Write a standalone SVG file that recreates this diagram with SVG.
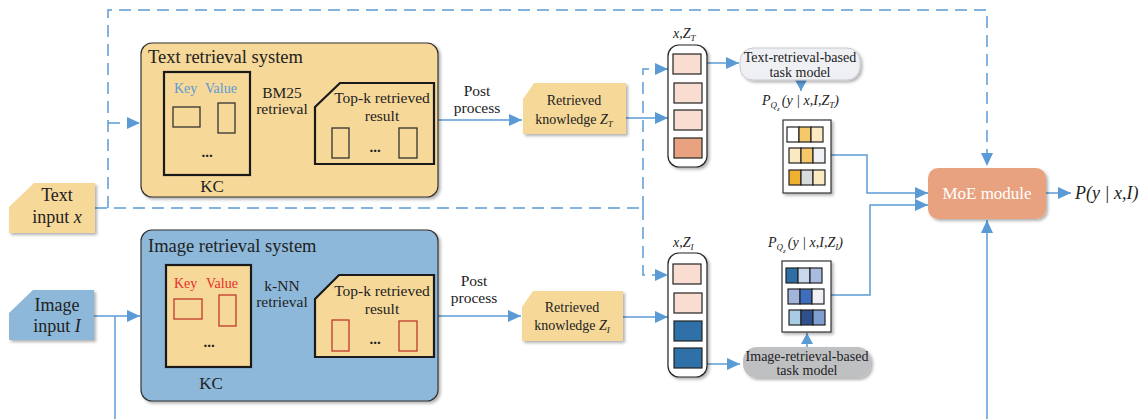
<svg xmlns="http://www.w3.org/2000/svg" width="1145" height="419" viewBox="0 0 1145 419">
<defs>
<marker id="ah" markerUnits="userSpaceOnUse" markerWidth="13" markerHeight="12" refX="13" refY="6" orient="auto"><path d="M0,0 L13,6 L0,12 z" fill="#5B9BD5"/></marker>
<marker id="ahs" markerUnits="userSpaceOnUse" markerWidth="11" markerHeight="12" refX="11" refY="6" orient="auto"><path d="M0,0 L11,6 L0,12 z" fill="#5B9BD5"/></marker>
<filter id="sh" x="-10%" y="-10%" width="125%" height="130%"><feDropShadow dx="2" dy="2" stdDeviation="1.5" flood-color="#000" flood-opacity="0.3"/></filter>
</defs>
<style>
text{font-family:"Liberation Serif","Times New Roman",serif;fill:#222}
.t15{font-size:15.5px}
.t14{font-size:14px}
.it{font-style:italic}
.ln{fill:none;stroke:#5B9BD5;stroke-width:1.5}
.ds{stroke-dasharray:12 7}
.sys{stroke:#333;stroke-width:1.2}
.kc{fill:#F6D898;stroke:#1a1a1a;stroke-width:2.2}
.cell{stroke:#222;stroke-width:1.2}
.sb{stroke:#333;stroke-width:1.3}
</style>
<rect width="1145" height="419" fill="#fff"/>

<g id="connectors">
<path class="ln ds" d="M95,208 H643"/>
<path class="ln ds" d="M108,208 V10 H987 V166" marker-end="url(#ah)"/>
<path class="ln ds" d="M108,123 H140" marker-end="url(#ah)"/>
<path class="ln ds" d="M643,208 V69 H668" marker-end="url(#ah)"/>
<path class="ln ds" d="M643,208 V275 H668" marker-end="url(#ah)"/>
<path class="ln" d="M250,123 H314" marker-end="url(#ah)"/>
<path class="ln" d="M434,120 H522" marker-end="url(#ah)"/>
<path class="ln" d="M626,118 H668" marker-end="url(#ah)"/>
<path class="ln" d="M707,63 H739" marker-end="url(#ah)"/>
<path class="ln" d="M801,80 V91" marker-end="url(#ahs)"/>
<path class="ln" d="M94,316 H140" marker-end="url(#ah)"/>
<path class="ln" d="M115,316 V419"/>
<path class="ln" d="M251,316 H314" marker-end="url(#ah)"/>
<path class="ln" d="M434,316 H521" marker-end="url(#ah)"/>
<path class="ln" d="M623,317 H668" marker-end="url(#ah)"/>
<path class="ln" d="M707,364 H740" marker-end="url(#ah)"/>
<path class="ln" d="M807,347 V333" marker-end="url(#ahs)"/>
<path class="ln" d="M831,155 H867 V193 H928" marker-end="url(#ah)"/>
<path class="ln" d="M831,295 H870 V205 H928" marker-end="url(#ah)"/>
<path class="ln" d="M987,419 V220" marker-end="url(#ah)"/>
<path class="ln" d="M1046,193 H1071" marker-end="url(#ah)"/>
</g>

<g id="text-input">
<polygon points="9,207 34,183 95,183 95,233 9,233" fill="#F6D898" filter="url(#sh)"/>
<text x="57" y="201" font-size="18" text-anchor="middle">Text</text>
<text x="57" y="223" font-size="18" text-anchor="middle">input <tspan class="it">x</tspan></text>
</g>

<g id="image-input">
<polygon points="9,313 33,290 94,290 94,340 9,340" fill="#8DB8DA" filter="url(#sh)"/>
<text x="57" y="311" font-size="18" text-anchor="middle">Image</text>
<text x="57" y="332" font-size="18" text-anchor="middle">input <tspan class="it">I</tspan></text>
</g>

<g id="text-retrieval-system">
<rect x="141" y="43" width="297" height="154" rx="11" fill="#F6D898" class="sys" filter="url(#sh)"/>
<text x="148" y="63" font-size="18.5">Text retrieval system</text>
<rect x="164" y="72" width="86" height="103" class="kc"/>
<text x="174" y="93" class="t14" style="fill:#5B9BD5">Key</text>
<text x="205" y="93" class="t14" style="fill:#5B9BD5">Value</text>
<rect x="173" y="107" width="27" height="20" fill="#F6D898" class="sb"/>
<rect x="218" y="103" width="17" height="30" fill="#F6D898" class="sb"/>
<text x="207" y="157" font-size="15" font-weight="bold" text-anchor="middle">...</text>
<text x="212" y="192" font-size="17" text-anchor="middle">KC</text>
<text x="282" y="98" class="t15" text-anchor="middle">BM25</text>
<text x="282" y="114" class="t15" text-anchor="middle">retrieval</text>
<polygon points="315,107 340,83 434,83 434,164 315,164" fill="#F6D898" stroke="#1a1a1a" stroke-width="2.2"/>
<text x="382" y="103" class="t15" text-anchor="middle">Top-k retrieved</text>
<text x="382" y="121" class="t15" text-anchor="middle">result</text>
<rect x="332" y="128" width="17" height="30" fill="#F6D898" class="sb"/>
<rect x="399" y="128" width="18" height="30" fill="#F6D898" class="sb"/>
<text x="375" y="152" font-size="15" font-weight="bold" text-anchor="middle">...</text>
<text x="477" y="96" class="t15" text-anchor="middle">Post</text>
<text x="477" y="113" class="t15" text-anchor="middle">process</text>
</g>

<g id="image-retrieval-system">
<rect x="141" y="230" width="297" height="171" rx="11" fill="#8DB8DA" class="sys" filter="url(#sh)"/>
<text x="148" y="252" font-size="18.5">Image retrieval system</text>
<rect x="166" y="265" width="85" height="102" class="kc"/>
<text x="174" y="288" class="t14" style="fill:#E8302A">Key</text>
<text x="206" y="288" class="t14" style="fill:#E8302A">Value</text>
<rect x="174" y="299" width="28" height="20" fill="#F6D898" stroke="#C0392B" stroke-width="1.3"/>
<rect x="219" y="295" width="17" height="31" fill="#F6D898" stroke="#C0392B" stroke-width="1.3"/>
<text x="209" y="347" font-size="15" font-weight="bold" text-anchor="middle">...</text>
<text x="211" y="389" font-size="17" text-anchor="middle">KC</text>
<text x="282" y="291" class="t15" text-anchor="middle">k-NN</text>
<text x="282" y="307" class="t15" text-anchor="middle">retrieval</text>
<polygon points="315,299 339,275 434,275 434,357 315,357" fill="#F6D898" stroke="#1a1a1a" stroke-width="2.2"/>
<text x="382" y="296" class="t15" text-anchor="middle">Top-k retrieved</text>
<text x="382" y="314" class="t15" text-anchor="middle">result</text>
<rect x="332" y="320" width="17" height="31" fill="#F6D898" stroke="#C0392B" stroke-width="1.3"/>
<rect x="399" y="321" width="18" height="30" fill="#F6D898" stroke="#C0392B" stroke-width="1.3"/>
<text x="375" y="344" font-size="15" font-weight="bold" text-anchor="middle">...</text>
<text x="474" y="286" class="t15" text-anchor="middle">Post</text>
<text x="474" y="303" class="t15" text-anchor="middle">process</text>
</g>

<g id="retrieved-knowledge-text">
<polygon points="523,99 534,83 626,83 626,134 523,134" fill="#F6D898" filter="url(#sh)"/>
<text x="574" y="105" class="t14" text-anchor="middle">Retrieved</text>
<text x="574" y="124" class="t14" text-anchor="middle">knowledge <tspan class="it">Z</tspan><tspan class="it" font-size="9" dy="3">T</tspan></text>
</g>

<g id="retrieved-knowledge-image">
<polygon points="522,307 533,291 623,291 623,341 522,341" fill="#F6D898" filter="url(#sh)"/>
<text x="572" y="312" class="t14" text-anchor="middle">Retrieved</text>
<text x="572" y="330" class="t14" text-anchor="middle">knowledge <tspan class="it">Z</tspan><tspan class="it" font-size="9" dy="3">I</tspan></text>
</g>

<g id="stack-text">
<text x="673" y="38" class="t14 it">x,Z<tspan font-size="9" dy="3">T</tspan></text>
<rect x="668" y="45" width="39" height="122" rx="11" fill="#fff" stroke="#222" stroke-width="1.2" filter="url(#sh)"/>
<rect x="673" y="54" width="28" height="20" fill="#F9DDD0" class="cell"/>
<rect x="674" y="83" width="28" height="20" fill="#F9DDD0" class="cell"/>
<rect x="674" y="110" width="28" height="20" fill="#F9DDD0" class="cell"/>
<rect x="674" y="138" width="28" height="20" fill="#E9A27F" class="cell"/>
</g>

<g id="stack-image">
<text x="673" y="247" class="t14 it">x,Z<tspan font-size="9" dy="3">I</tspan></text>
<rect x="668" y="253" width="39" height="124" rx="11" fill="#fff" stroke="#222" stroke-width="1.2" filter="url(#sh)"/>
<rect x="673" y="264" width="28" height="20" fill="#F9DDD0" class="cell"/>
<rect x="674" y="293" width="28" height="20" fill="#F9DDD0" class="cell"/>
<rect x="674" y="321" width="28" height="20" fill="#3070A8" class="cell"/>
<rect x="674" y="348" width="28" height="20" fill="#3070A8" class="cell"/>
</g>

<g id="text-task-model">
<rect x="740" y="48" width="120" height="32" rx="13" fill="#EEF0F3" stroke="#C8CACD" stroke-width="1" filter="url(#sh)"/>
<text x="800" y="62" class="t14" text-anchor="middle">Text-retrieval-based</text>
<text x="800" y="77" class="t14" text-anchor="middle">task model</text>
</g>

<g id="text-prob">
<text x="762" y="105" class="t14 it">P<tspan font-size="9" dy="3">Q</tspan><tspan font-size="7" dy="3">z</tspan><tspan font-size="14" dy="-6" dx="2">(y | x,I,Z</tspan><tspan font-size="9" dy="3">T</tspan><tspan font-size="14" dy="-3">)</tspan></text>
<rect x="783" y="120" width="48" height="73" fill="#fff" stroke="#333" stroke-width="1.2" filter="url(#sh)"/>
<rect x="787" y="127" width="12" height="15" fill="#ffffff" class="cell"/>
<rect x="799" y="127" width="12" height="15" fill="#F5C96A" class="cell"/>
<rect x="811" y="127" width="12" height="15" fill="#FBE9C2" class="cell"/>
<rect x="789" y="148" width="12" height="15" fill="#FBE9C2" class="cell"/>
<rect x="801" y="148" width="12" height="15" fill="#F5C96A" class="cell"/>
<rect x="813" y="148" width="12" height="15" fill="#EEF0F3" class="cell"/>
<rect x="789" y="170" width="12" height="15" fill="#F0B030" class="cell"/>
<rect x="801" y="170" width="12" height="15" fill="#D9DADC" class="cell"/>
<rect x="813" y="170" width="12" height="15" fill="#FBE9C2" class="cell"/>
</g>

<g id="image-prob">
<text x="768" y="247" class="t14 it">P<tspan font-size="9" dy="3">Q</tspan><tspan font-size="7" dy="3">z</tspan><tspan font-size="14" dy="-6" dx="2">(y | x,I,Z</tspan><tspan font-size="9" dy="3">I</tspan><tspan font-size="14" dy="-3">)</tspan></text>
<rect x="782" y="261" width="49" height="71" fill="#fff" stroke="#333" stroke-width="1.2" filter="url(#sh)"/>
<rect x="786" y="268" width="12" height="15" fill="#2E6EA6" class="cell"/>
<rect x="798" y="268" width="12" height="15" fill="#C8D6EE" class="cell"/>
<rect x="810" y="268" width="12" height="15" fill="#A8BCE0" class="cell"/>
<rect x="788" y="289" width="12" height="15" fill="#A0B4DC" class="cell"/>
<rect x="800" y="289" width="12" height="15" fill="#3D6FBE" class="cell"/>
<rect x="812" y="289" width="12" height="15" fill="#EEF0F3" class="cell"/>
<rect x="789" y="310" width="12" height="15" fill="#A8CCE6" class="cell"/>
<rect x="801" y="310" width="12" height="15" fill="#2F4F8F" class="cell"/>
<rect x="813" y="310" width="12" height="15" fill="#7F9FD0" class="cell"/>
</g>

<g id="image-task-model">
<rect x="743" y="347" width="128" height="31" rx="14" fill="#BFC0C2" filter="url(#sh)"/>
<text x="807" y="361" class="t14" text-anchor="middle">Image-retrieval-based</text>
<text x="807" y="375" class="t14" text-anchor="middle">task model</text>
</g>

<g id="moe-module">
<rect x="928" y="168" width="118" height="51" rx="10" fill="#E9A27F" filter="url(#sh)"/>
<text x="987" y="199" font-size="17" text-anchor="middle" style="fill:#fff">MoE module</text>
</g>

<g id="output">
<text x="1075" y="199" font-size="18" class="it">P(y | x,I)</text>
</g>
</svg>
